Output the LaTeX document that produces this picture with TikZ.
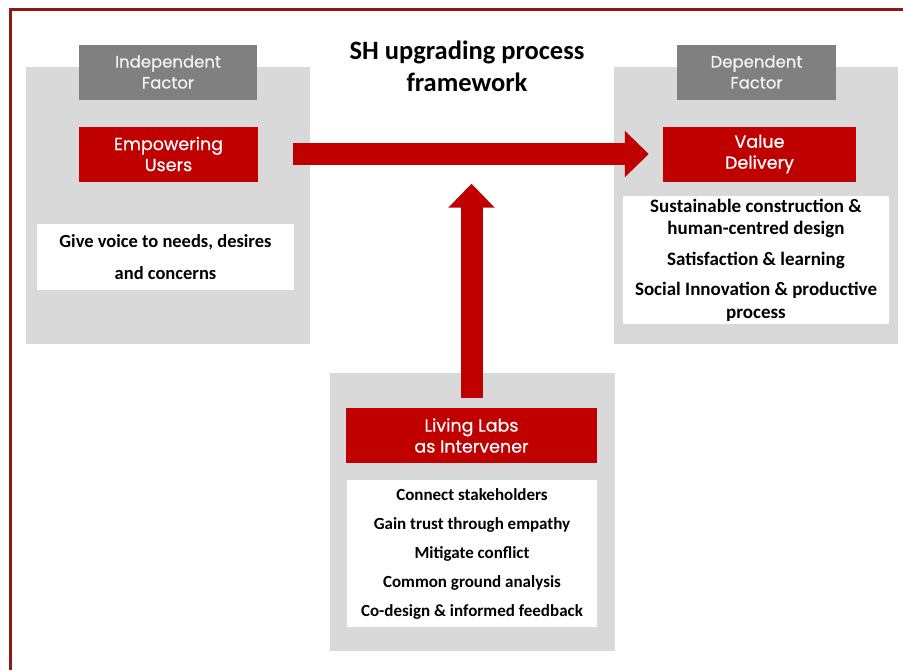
\documentclass[tikz,border=0pt]{standalone}
\usepackage{fontspec}
\setmainfont{Carlito}
\newfontfamily\gothic{Poppins}
\newfontfamily\gothicbf[FakeBold=0.6]{Poppins}
\usepackage{xcolor}
\definecolor{FrameColor}{RGB}{140,24,24}
\definecolor{PanelColor}{RGB}{217,217,217}
\definecolor{TagColor}{RGB}{128,128,128}
\definecolor{KeyColor}{RGB}{192,0,0}
\definecolor{TagText}{RGB}{242,242,242}
\usetikzlibrary{positioning, arrows.meta}

\begin{document}
\begin{tikzpicture}[
    x=1pt, y=-1pt,
    every node/.style={inner sep=0pt},
    panel/.style={rectangle, fill=PanelColor, anchor=north west},
    tag/.style={rectangle, fill=TagColor, text=TagText, align=center, minimum height=55pt,
        font=\gothicbf\fontsize{16.5}{21}\selectfont},
    key/.style={rectangle, fill=KeyColor, text=white, align=center, minimum height=55pt,
        font=\gothicbf\fontsize{17.5}{21}\selectfont},
    list/.style={rectangle, fill=white, align=center, font=\bfseries\fontsize{17}{22}\selectfont},
    flow/.style={KeyColor, line width=22pt, -{Triangle[length=24pt, width=45pt]}},
]
\useasboundingbox (0,0) rectangle (903,670);

% Frame
\draw[FrameColor, line width=2.5pt] (10.5,670) -- (10.5,9.5) -- (903,9.5);

% Title
\node[font=\bfseries\fontsize{26.5}{32}\selectfont, align=center] (title) at (467,66)
    {SH upgrading process\\framework};

% Panels
\node[panel, minimum width=284pt, minimum height=277pt] (leftpanel) at (26,67) {};
\node[panel, minimum width=284pt, minimum height=277pt] (rightpanel) at (614,67) {};
\node[panel, minimum width=285pt, minimum height=278pt] (midpanel) at (330,373) {};

% Independent side
\node[tag, minimum width=178pt] (indep) at (168,72) {Independent\\Factor};
\node[key, minimum width=179pt] (emp) at (168.5,154) {Empowering\\Users};
\node[list, minimum width=257pt, minimum height=66pt, font=\bfseries\fontsize{18.5}{22}\selectfont]
    (voice) at (165.5,257) {Give voice to needs, desires\\[10pt]and concerns};

% Dependent side
\node[tag, minimum width=159pt] (dep) at (756.5,72) {Dependent\\Factor};
\node[key, minimum width=193pt] (val) at (759.5,154) {Value\\Delivery};
\node[list, minimum width=266pt, minimum height=128pt, font=\bfseries\fontsize{19}{22.5}\selectfont]
    (outcomes) at (756,260)
    {Sustainable construction \&\\human-centred design\\[8pt]Satisfaction \& learning\\[8pt]%
     Social Innovation \& productive\\process};

% Intervener
\node[key, minimum width=251pt] (labs) at (471.5,435.5) {Living Labs\\as Intervener};
\node[list, minimum width=250pt, minimum height=147pt] (roles) at (472,553.5)
    {Connect stakeholders\\[7pt]Gain trust through empathy\\[7pt]Mitigate conflict\\[7pt]%
     Common ground analysis\\[7pt]Co-design \& informed feedback};

% Arrows
\draw[flow, shorten <=35pt, shorten >=14pt] (emp.east) -- (val.west);
\draw[flow, shorten <=10pt, shorten >=2pt] (labs.north) -- (labs.north |- emp.south);

\end{tikzpicture}
\end{document}
